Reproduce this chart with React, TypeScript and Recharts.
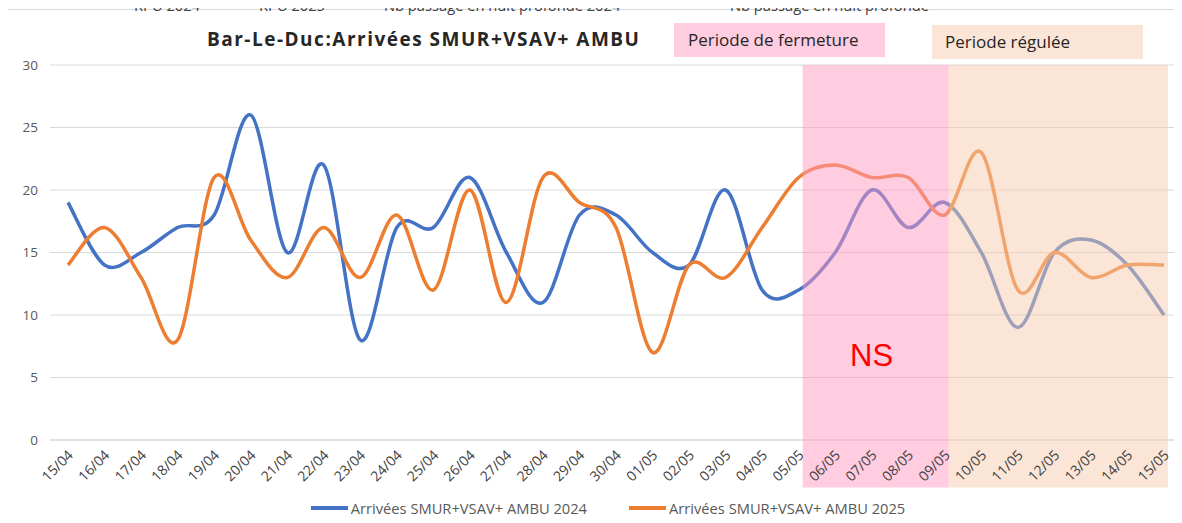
import React from "react";
import {
  LineChart,
  Line,
  XAxis,
  YAxis,
  CartesianGrid,
  ReferenceArea,
  Legend,
} from "recharts";

const dates = [
  "15/04", "16/04", "17/04", "18/04", "19/04", "20/04", "21/04", "22/04",
  "23/04", "24/04", "25/04", "26/04", "27/04", "28/04", "29/04", "30/04",
  "01/05", "02/05", "03/05", "04/05", "05/05", "06/05", "07/05", "08/05",
  "09/05", "10/05", "11/05", "12/05", "13/05", "14/05", "15/05",
];

const arrivees2024 = [
  19, 14, 15, 17, 18, 26, 15, 22, 8, 17, 17, 21, 15, 11, 18, 18,
  15, 14, 20, 12, 12, 15, 20, 17, 19, 15, 9, 15, 16, 14, 10,
];

const arrivees2025 = [
  14, 17, 13, 8, 21, 16, 13, 17, 13, 18, 12, 20, 11, 21, 19, 17,
  7, 14, 13, 17, 21, 22, 21, 21, 18, 23, 12, 15, 13, 14, 14,
];

const yTicks = [0, 5, 10, 15, 20, 25, 30];

const topLegend = [
  { label: "RPU 2024", color: "#4472C4", x: 97 },
  { label: "RPU 2025", color: "#ED7D31", x: 222 },
  { label: "Nb passage en nuit profonde 2024", color: "#A5A5A5", x: 347 },
  { label: "Nb passage en nuit profonde", color: "#FFC000", x: 693 },
];

const data = dates.map((d, i) => ({
  date: d,
  a2024: arrivees2024[i],
  a2025: arrivees2025[i],
}));

const FONT = "'Open Sans', 'Liberation Sans', sans-serif";

// Excel-like smoothing (Catmull-Rom through every point)
function excelCurve(context: any) {
  let pts: number[][] = [];
  return {
    areaStart() {},
    areaEnd() {},
    lineStart() {
      pts = [];
    },
    lineEnd() {
      if (!pts.length) return;
      context.moveTo(pts[0][0], pts[0][1]);
      for (let i = 0; i < pts.length - 1; i++) {
        const p0 = pts[i - 1] || pts[i];
        const p1 = pts[i];
        const p2 = pts[i + 1];
        const p3 = pts[i + 2] || p2;
        context.bezierCurveTo(
          p1[0] + (p2[0] - p0[0]) / 6,
          p1[1] + (p2[1] - p0[1]) / 6,
          p2[0] - (p3[0] - p1[0]) / 6,
          p2[1] - (p3[1] - p1[1]) / 6,
          p2[0],
          p2[1]
        );
      }
    },
    point(x: number, y: number) {
      pts.push([x, y]);
    },
  };
}

const DateTick = (props: any) => {
  const { x, y, payload } = props;
  const tx = x + 6;
  const ty = y + 14;
  return (
    <text
      x={tx}
      y={ty}
      textAnchor="end"
      fontSize={14}
      fontFamily={FONT}
      fill="#404040"
      transform={`rotate(-45, ${tx}, ${ty})`}
    >
      {payload.value}
    </text>
  );
};

const shiftedRect = (fill: string) => (p: any) => (
  <rect
    x={p.x + 4}
    y={p.y}
    width={p.width}
    height={p.height}
    fill={fill}
    fillOpacity={0.5}
  />
);

const BottomLegend = (props: any) => {
  const { payload } = props;
  return (
    <div
      style={{
        display: "flex",
        justifyContent: "center",
        gap: 42,
        paddingLeft: 34,
      }}
    >
      {payload.map((e: any) => (
        <div key={e.value} style={{ display: "flex", alignItems: "center" }}>
          <span
            style={{
              display: "inline-block",
              width: 37,
              height: 4,
              background: e.color,
              marginRight: 3,
            }}
          />
          <span style={{ fontFamily: FONT, fontSize: 14.7, color: "#595959" }}>
            {e.value}
          </span>
        </div>
      ))}
    </div>
  );
};

export default function App() {
  return (
    <div
      style={{
        position: "relative",
        margin: -8,
        width: 1182,
        height: 523,
        overflow: "hidden",
        background: "#fff",
      }}
    >
      <div
        style={{
          position: "absolute",
          left: 0,
          top: 0,
          width: 8,
          height: 523,
          background: "#EAF3FB",
        }}
      />
      <div
        style={{
          position: "absolute",
          left: 8,
          top: 9,
          width: 1174,
          height: 1,
          background: "#D9D9D9",
        }}
      />
      {topLegend.map((t) => (
        <React.Fragment key={t.label}>
          <div
            style={{
              position: "absolute",
              left: t.x,
              top: 0,
              width: 35,
              height: 3,
              background: t.color,
            }}
          />
          <div
            style={{
              position: "absolute",
              left: t.x + 37,
              top: -3,
              height: 16,
              lineHeight: "16px",
              fontFamily: FONT,
              fontSize: 14.7,
              color: "#404040",
              whiteSpace: "nowrap",
            }}
          >
            {t.label}
          </div>
        </React.Fragment>
      ))}

      <LineChart
        width={1182}
        height={523}
        data={data}
        margin={{ top: 65, right: 0, left: 0, bottom: 0 }}
      >
        <CartesianGrid vertical={false} stroke="#D9D9D9" />
        <XAxis
          dataKey="date"
          interval={0}
          padding={{ left: 18, right: 18 }}
          axisLine={{ stroke: "#D9D9D9" }}
          tickLine={false}
          tickSize={0}
          height={83}
          tick={<DateTick />}
        />
        <YAxis
          width={50}
          domain={[0, 30]}
          ticks={yTicks}
          axisLine={false}
          tickLine={false}
          tickSize={0}
          tickMargin={12}
          tick={{ fill: "#595959", fontSize: 13.5, fontFamily: FONT }}
        />
        <Line
          name="Arrivées SMUR+VSAV+ AMBU 2024"
          dataKey="a2024"
          type={excelCurve as any}
          stroke="#4472C4"
          strokeWidth={3.5}
          dot={false}
          isAnimationActive={false}
        />
        <Line
          name="Arrivées SMUR+VSAV+ AMBU 2025"
          dataKey="a2025"
          type={excelCurve as any}
          stroke="#ED7D31"
          strokeWidth={3.5}
          dot={false}
          isAnimationActive={false}
        />
        <ReferenceArea
          x1="05/05"
          x2="09/05"
          y1={-3.8}
          y2={30}
          ifOverflow="visible"
          shape={shiftedRect("#FF99C2")}
          zIndex={600}
        />
        <ReferenceArea
          x1="09/05"
          x2="15/05"
          y1={-3.8}
          y2={30}
          ifOverflow="visible"
          shape={shiftedRect("#F7CBAD")}
          zIndex={600}
        />
        <Legend
          verticalAlign="middle"
          content={<BottomLegend />}
          wrapperStyle={{ top: 498, left: 0, width: 1182 }}
        />
      </LineChart>

      <div
        style={{
          position: "absolute",
          left: 207,
          top: 26,
          fontFamily: FONT,
          fontWeight: 700,
          fontSize: 19,
          letterSpacing: 1.5,
          color: "#262626",
          whiteSpace: "nowrap",
        }}
      >
        Bar-Le-Duc:Arrivées SMUR+VSAV+ AMBU
      </div>
      <div
        style={{
          position: "absolute",
          left: 674,
          top: 23,
          width: 211,
          height: 34,
          background: "#FFCCE0",
          boxSizing: "border-box",
          paddingLeft: 14,
          lineHeight: "34px",
          fontFamily: FONT,
          fontSize: 17,
          color: "#262626",
        }}
      >
        Periode de fermeture
      </div>
      <div
        style={{
          position: "absolute",
          left: 932,
          top: 25,
          width: 211,
          height: 34,
          background: "#FBE5D6",
          boxSizing: "border-box",
          paddingLeft: 13,
          lineHeight: "34px",
          fontFamily: FONT,
          fontSize: 17,
          color: "#262626",
        }}
      >
        Periode régulée
      </div>
      <div
        style={{
          position: "absolute",
          left: 850,
          top: 338,
          fontFamily: "'Liberation Sans', Arial, sans-serif",
          fontSize: 31,
          color: "#FF0000",
        }}
      >
        NS
      </div>
    </div>
  );
}
